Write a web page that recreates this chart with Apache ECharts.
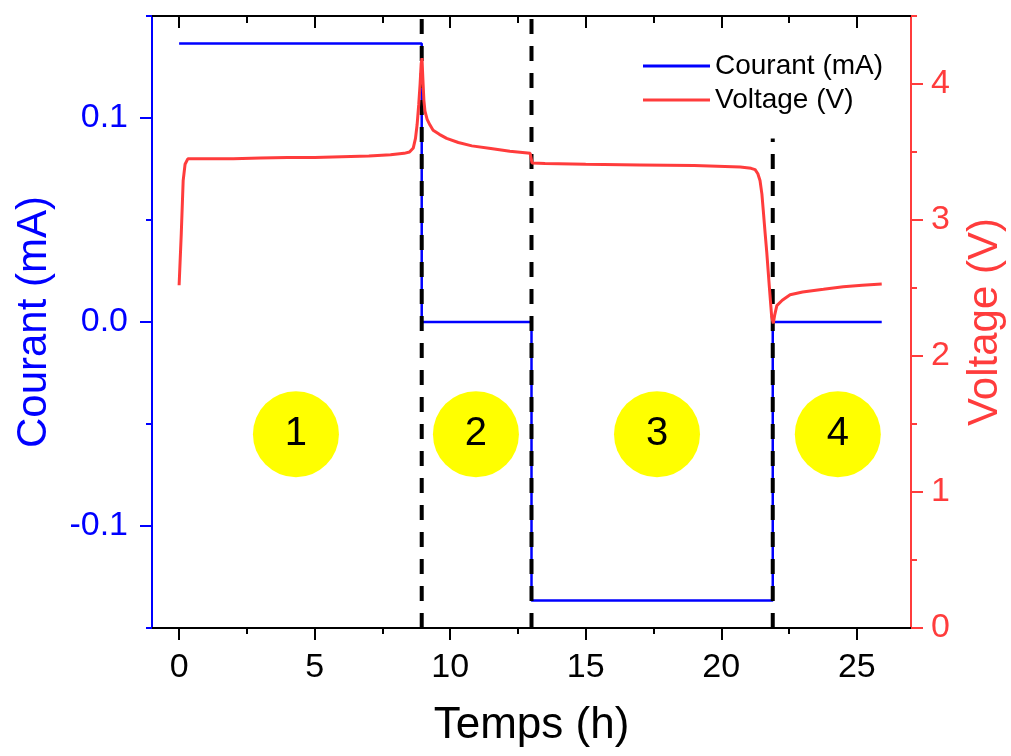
<!DOCTYPE html>
<html>
<head>
<meta charset="utf-8">
<script src="https://cdn.jsdelivr.net/npm/echarts@6/dist/echarts.min.js"></script>
<style>
  html, body { margin: 0; padding: 0; background: #fff; }
  #main { width: 1011px; height: 756px; }
</style>
</head>
<body>
<div id="main"></div>
<script>
// courant (mA), créneaux
var currentTimes = [0, 8.95, 8.95, 13.0, 13.0, 21.9, 21.9, 25.92];
var currentValues = [0.1365, 0.1365, 0, 0, -0.1365, -0.1365, 0, 0];

// tension (V)
var voltageTimes = [0.00, 0.08, 0.15, 0.22, 0.32, 1.0, 2.0, 3.0, 4.0, 5.0, 6.0, 7.0, 7.8, 8.3, 8.5,
  8.64, 8.72, 8.78, 8.84, 8.89, 8.93, 8.96, 8.99, 9.03, 9.07, 9.15, 9.25, 9.37, 9.6, 9.87,
  10.3, 10.8, 11.5, 12.2, 12.95, 13.02, 13.5, 15, 17, 19, 20.7, 21.1, 21.25, 21.35, 21.43,
  21.5, 21.55, 21.62, 21.68, 21.77, 21.86, 21.92, 21.97, 22.05, 22.25, 22.54, 23.0, 23.77,
  24.5, 25.2, 25.92];
var voltageValues = [2.52, 2.90, 3.29, 3.41, 3.45, 3.45, 3.45, 3.455, 3.46, 3.46, 3.465, 3.47, 3.48, 3.49, 3.50,
  3.53, 3.60, 3.70, 3.85, 4.00, 4.15, 4.19, 4.05, 3.88, 3.80, 3.74, 3.70, 3.66, 3.63, 3.60,
  3.57, 3.545, 3.525, 3.505, 3.49, 3.42, 3.415, 3.41, 3.405, 3.40, 3.39, 3.38, 3.37, 3.34, 3.29,
  3.19, 3.07, 2.90, 2.76, 2.52, 2.29, 2.24, 2.30, 2.37, 2.41, 2.45, 2.47, 2.49,
  2.51, 2.52, 2.53];

// lignes pointillées (temps, haut en mA)
var dividerTimes = [8.95, 13.0, 21.9];
var dividerTops = [0.15, 0.15, 0.09];

// étapes numérotées
var stepTimes = [4.31, 10.95, 17.63, 24.3];
var stepLevel = -0.055;
var stepLabels = ['1', '2', '3', '4'];

var xMajorTicks = [0, 5, 10, 15, 20, 25];
var xMinorTicks = [2.5, 7.5, 12.5, 17.5, 22.5];
var currentMajorTicks = [-0.1, 0, 0.1];
var currentMinorTicks = [-0.15, -0.05, 0.05, 0.15];
var voltageMajorTicks = [0, 1, 2, 3, 4];
var voltageMinorTicks = [0.5, 1.5, 2.5, 3.5, 4.5];

var FONT = 'Liberation Sans, Arial, sans-serif';
var BLUE = '#0000ff';
var RED = '#ff3c3c';

function zip(a, b) {
  return a.map(function (v, i) { return [v, b[i]]; });
}

var myChart = echarts.init(document.getElementById('main'));

function xAx(pos, major, inside, len, withLabel) {
  return {
    type: 'value', position: pos, min: -1, max: 27,
    splitLine: { show: false },
    axisLine: { show: major, onZero: false, lineStyle: { color: '#000', width: 2 } },
    axisTick: { show: true, inside: inside, length: len, customValues: major ? xMajorTicks : xMinorTicks,
      lineStyle: { color: '#000', width: 2 } },
    axisLabel: withLabel ? { show: true, customValues: xMajorTicks, margin: 23, color: '#000',
      fontSize: 34, fontFamily: FONT } : { show: false },
    name: withLabel ? 'Temps (h)' : '',
    nameLocation: 'middle', nameGap: 76,
    nameTextStyle: { color: '#000', fontSize: 44, fontFamily: FONT }
  };
}

function yMinor(pos, lo, hi, ticks, color) {
  return {
    type: 'value', position: pos, min: lo, max: hi,
    splitLine: { show: false }, axisLabel: { show: false },
    axisLine: { show: false, onZero: false },
    axisTick: { show: true, length: 6, customValues: ticks, lineStyle: { color: color, width: 2 } }
  };
}

var option = {
  animation: false,
  backgroundColor: '#fff',
  grid: { left: 152, right: 100, top: 16, bottom: 128, outerBoundsMode: 'none', containLabel: false },
  legend: {
    data: ['Courant (mA)', 'Voltage (V)'],
    orient: 'vertical', left: 638, top: 47,
    icon: 'rect', itemWidth: 67, itemHeight: 3, itemGap: 6,
    textStyle: { color: '#000', fontSize: 28, fontFamily: FONT }
  },
  xAxis: [
    xAx('bottom', true, false, 12, true),
    xAx('bottom', false, false, 6, false),
    xAx('top', true, true, 12, false),
    xAx('top', false, true, 7, false)
  ],
  yAxis: [
    {
      type: 'value', position: 'left', min: -0.15, max: 0.15,
      splitLine: { show: false },
      axisLine: { show: true, onZero: false, lineStyle: { color: BLUE, width: 2 } },
      axisTick: { show: true, length: 12, customValues: currentMajorTicks, lineStyle: { color: BLUE, width: 2 } },
      axisLabel: { customValues: currentMajorTicks, margin: 24, color: BLUE, fontSize: 34, fontFamily: FONT,
        formatter: function (v) { return v.toFixed(1); } },
      name: 'Courant (mA)', nameLocation: 'middle', nameGap: 97,
      nameTextStyle: { color: BLUE, fontSize: 42, fontFamily: FONT }
    },
    {
      type: 'value', position: 'right', min: 0, max: 4.5,
      splitLine: { show: false },
      axisLine: { show: true, onZero: false, lineStyle: { color: RED, width: 2 } },
      axisTick: { show: true, length: 12, customValues: voltageMajorTicks, lineStyle: { color: RED, width: 2 } },
      axisLabel: { customValues: voltageMajorTicks, margin: 20, color: RED, fontSize: 34, fontFamily: FONT },
      name: 'Voltage (V)', nameLocation: 'middle', nameGap: 53,
      nameTextStyle: { color: RED, fontSize: 42, fontFamily: FONT }
    },
    yMinor('left', -0.15, 0.15, currentMinorTicks, BLUE),
    yMinor('right', 0, 4.5, voltageMinorTicks, RED)
  ],
  series: []
};

option.series.push({
  name: 'Courant (mA)', type: 'line', xAxisIndex: 0, yAxisIndex: 0,
  symbol: 'none', color: BLUE, lineStyle: { color: BLUE, width: 2.5 },
  data: zip(currentTimes, currentValues)
});

dividerTimes.forEach(function (t, i) {
  option.series.push({
    type: 'line', xAxisIndex: 0, yAxisIndex: 0, symbol: 'none', silent: true,
    lineStyle: { color: '#000', width: 4, type: [15, 12] },
    data: [[t, -0.15], [t, dividerTops[i]]]
  });
});

option.series.push({
  name: 'Voltage (V)', type: 'line', xAxisIndex: 0, yAxisIndex: 1,
  symbol: 'none', color: RED, lineStyle: { color: RED, width: 3 },
  data: zip(voltageTimes, voltageValues)
});

option.series.push({
  type: 'scatter', xAxisIndex: 0, yAxisIndex: 0,
  symbolSize: 86, itemStyle: { color: '#ffff00', opacity: 1 },
  label: { show: true, position: 'inside', color: '#000', fontSize: 40, fontFamily: FONT,
    formatter: function (p) { return stepLabels[p.dataIndex]; } },
  data: stepTimes.map(function (t) { return [t, stepLevel]; })
});

myChart.setOption(option);
</script>
</body>
</html>
